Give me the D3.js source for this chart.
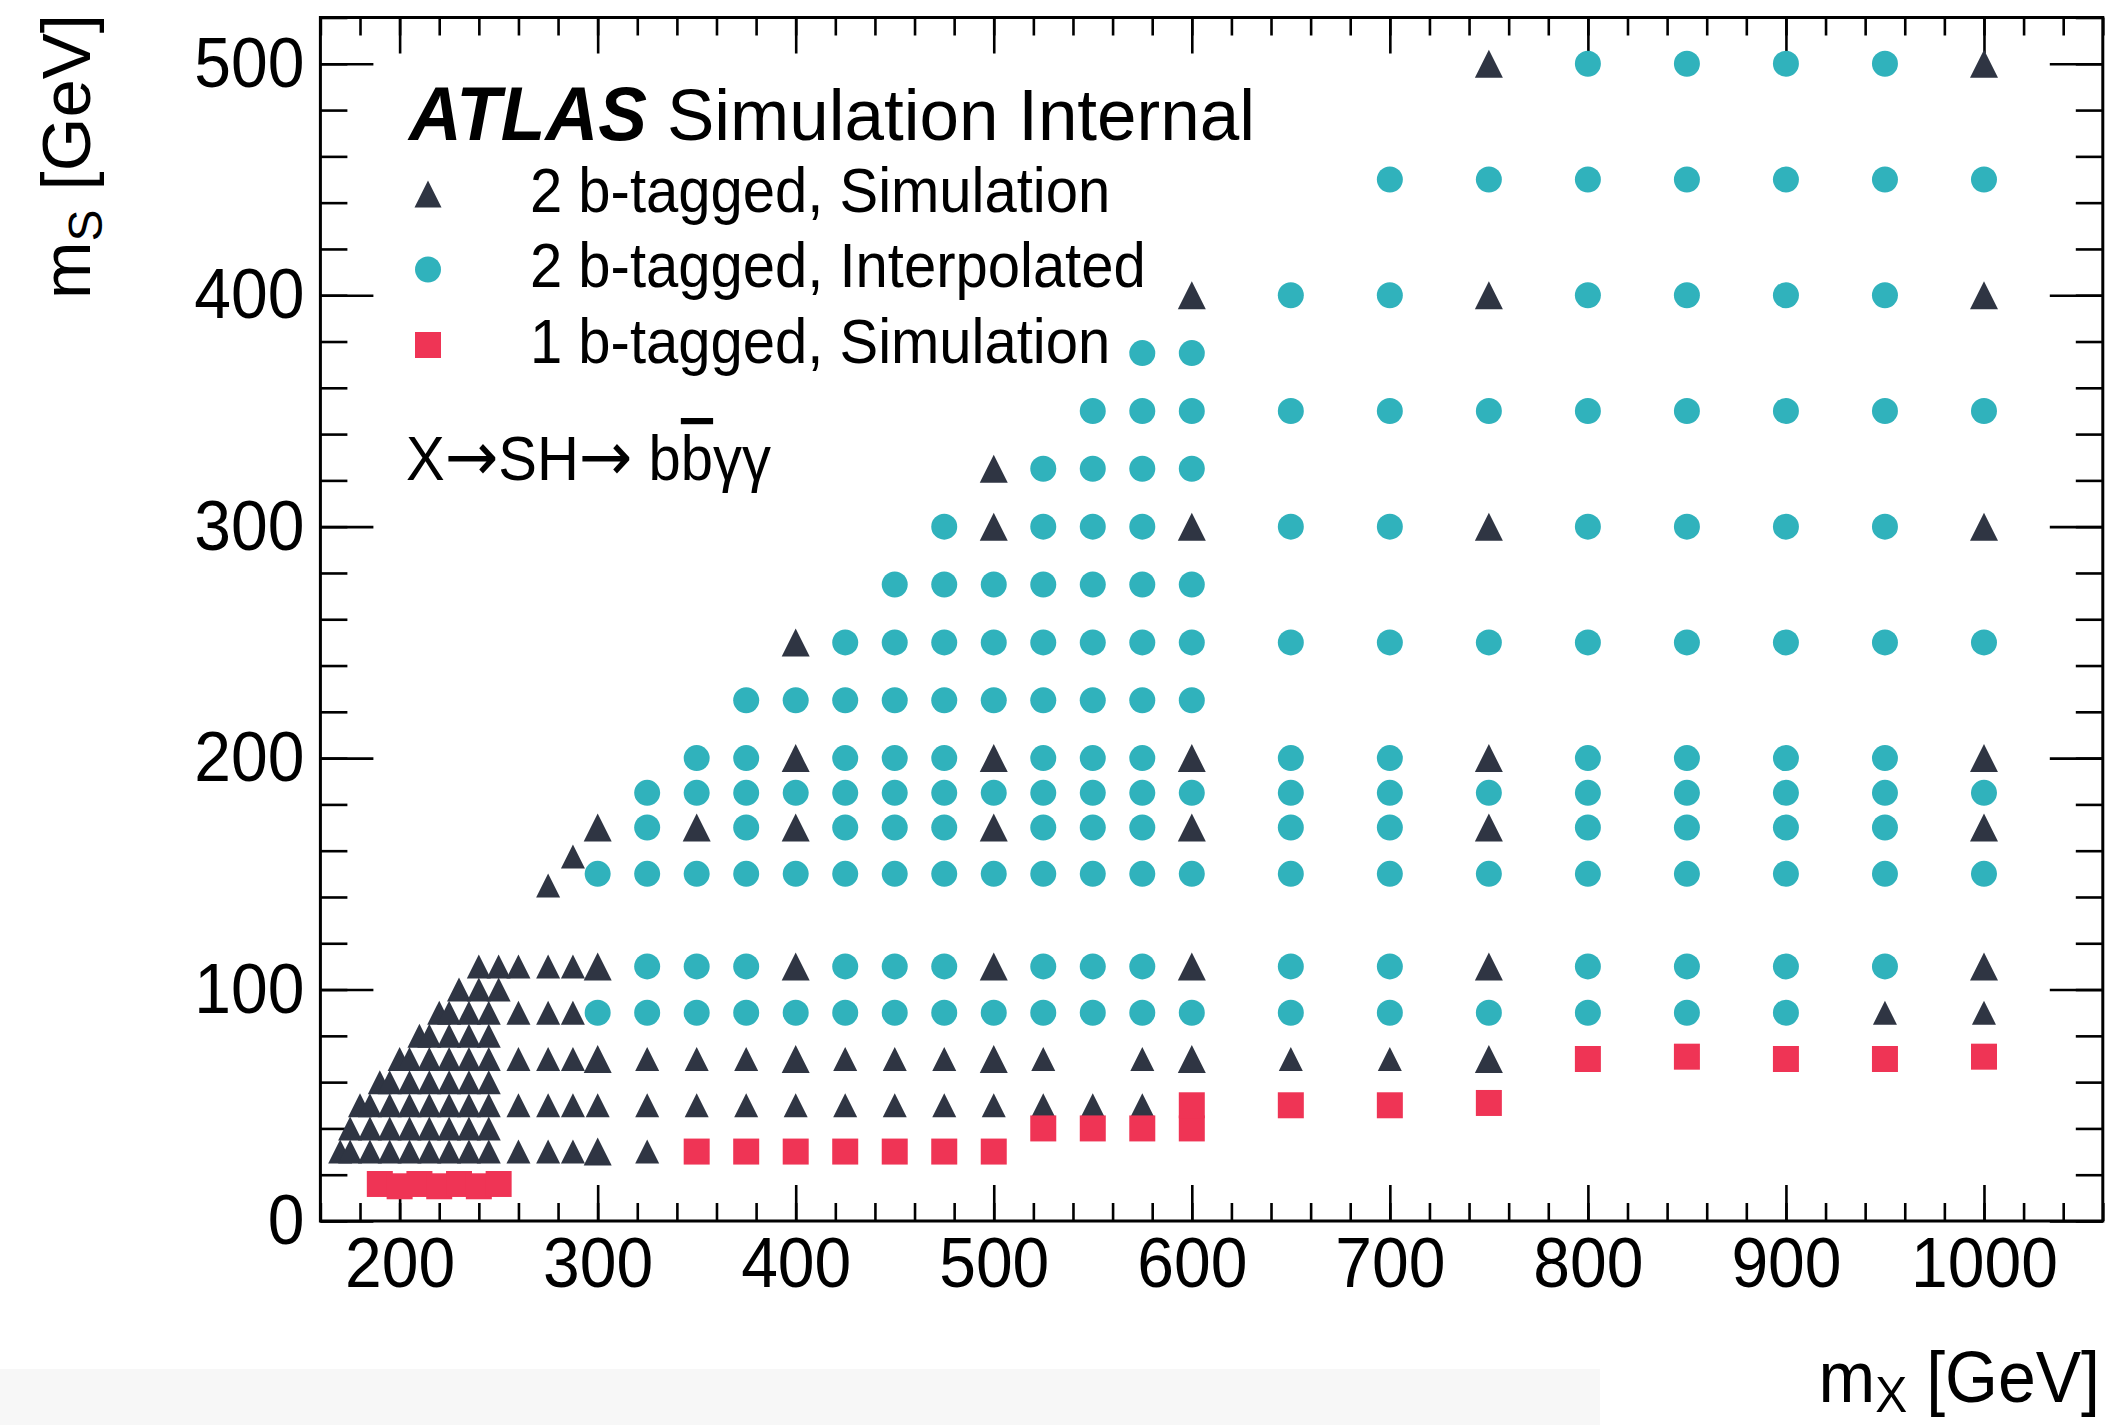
<!DOCTYPE html>
<html>
<head>
<meta charset="utf-8">
<script src="https://cdn.jsdelivr.net/npm/d3@7"></script>
<style>
  body { margin: 0; background: #fff; }
  text { font-family: "Liberation Sans", Arial, Helvetica, sans-serif; fill: #000; }
</style>
</head>
<body>
<svg id="chart" width="2115" height="1425"></svg>
<script>
// ---- Signal mass grid (mX, mS) in GeV ----

// 2 b-tagged simulated samples, main grid (each entry: [mX, list of mS])
const sim2bMain = [
  [300,  [30, 70, 110, 170]],
  [350,  [170]],
  [400,  [70, 110, 170, 200, 250]],
  [500,  [70, 110, 170, 200, 300, 325]],
  [600,  [70, 110, 170, 200, 300, 400]],
  [750,  [70, 110, 170, 200, 300, 400, 500]],
  [1000, [110, 170, 200, 300, 400, 500]]
];

// 2 b-tagged simulated samples, additional low-mass points
const sim2bExtra = [
  [170,   [30]],
  [175,   [30, 40]],
  [180,   [50]],
  [185,   [30, 40, 50]],
  [190,   [60]],
  [195,   [30, 40, 50, 60]],
  [200,   [70]],
  [205,   [30, 40, 50, 60, 70]],
  [210,   [80]],
  [215,   [30, 40, 50, 60, 70, 80]],
  [220,   [90]],
  [225,   [30, 40, 50, 60, 70, 80, 90]],
  [230,   [100]],
  [235,   [30, 40, 50, 60, 70, 80, 90]],
  [240,   [100, 110]],
  [245,   [30, 40, 50, 60, 70, 80, 90]],
  [250,   [100, 110]],
  [260,   [30, 50, 70, 90, 110]],
  [275,   [30, 50, 70, 90, 110, 145]],
  [287.5, [30, 50, 70, 90, 110, 157.5]],
  [300,   [50]],
  [325,   [30, 50, 70]],
  [350,   [50, 70]],
  [375,   [50, 70]],
  [400,   [50]],
  [425,   [50, 70]],
  [450,   [50, 70]],
  [475,   [50, 70]],
  [500,   [50]],
  [525,   [50, 70]],
  [550,   [50]],
  [575,   [50, 70]],
  [650,   [70]],
  [700,   [70]],
  [950,   [90]],
  [1000,  [90]]
];

// 2 b-tagged interpolated points
const interp2b = [
  [300,  [90, 150]],
  [325,  [90, 110, 150, 170, 185]],
  [350,  [90, 110, 150, 185, 200]],
  [375,  [90, 110, 150, 170, 185, 200, 225]],
  [400,  [90, 150, 185, 225]],
  [425,  [90, 110, 150, 170, 185, 200, 225, 250]],
  [450,  [90, 110, 150, 170, 185, 200, 225, 250, 275]],
  [475,  [90, 110, 150, 170, 185, 200, 225, 250, 275, 300]],
  [500,  [90, 150, 185, 225, 250, 275]],
  [525,  [90, 110, 150, 170, 185, 200, 225, 250, 275, 300, 325]],
  [550,  [90, 110, 150, 170, 185, 200, 225, 250, 275, 300, 325, 350]],
  [575,  [90, 110, 150, 170, 185, 200, 225, 250, 275, 300, 325, 350, 375]],
  [600,  [90, 150, 185, 225, 250, 275, 325, 350, 375]],
  [650,  [90, 110, 150, 170, 185, 200, 250, 300, 350, 400]],
  [700,  [90, 110, 150, 170, 185, 200, 250, 300, 350, 400, 450]],
  [750,  [90, 150, 185, 250, 350, 450]],
  [800,  [90, 110, 150, 170, 185, 200, 250, 300, 350, 400, 450, 500]],
  [850,  [90, 110, 150, 170, 185, 200, 250, 300, 350, 400, 450, 500]],
  [900,  [90, 110, 150, 170, 185, 200, 250, 300, 350, 400, 450, 500]],
  [950,  [110, 150, 170, 185, 200, 250, 300, 350, 400, 450, 500]],
  [1000, [150, 185, 250, 350, 450]]
];

// 1 b-tagged simulated samples: [mX, mS]
const sim1b = [
  [190, 16], [200, 15], [210, 16], [220, 15], [230, 16], [240, 15], [250, 16],
  [350, 30], [375, 30], [400, 30], [425, 30], [450, 30], [475, 30], [500, 30],
  [525, 40], [550, 40], [575, 40], [600, 40], [600, 50],
  [650, 50], [700, 50], [750, 51],
  [800, 70], [850, 71], [900, 70], [950, 70], [1000, 71]
];

// axis labels
const xTickValues = [200, 300, 400, 500, 600, 700, 800, 900, 1000];
const yTickValues = [0, 100, 200, 300, 400, 500];

const legendEntries = [
  { key: "sim2b",  label: "2 b-tagged, Simulation" },
  { key: "interp", label: "2 b-tagged, Interpolated" },
  { key: "sim1b",  label: "1 b-tagged, Simulation" }
];

// ---- layout ----
const W = 2115, H = 1425;
const frame = { left: 320.4, right: 2102.8, top: 17.5, bottom: 1221 };
const colors = { sim2b: "#2f3543", interp: "#30b2bc", sim1b: "#ef3455" };
const STRETCH = 1.07;   // glyphs are drawn slightly taller than the font's natural shape

const x = d3.scaleLinear().domain([160, 1060]).range([frame.left, frame.right]);
const y = d3.scaleLinear().domain([0, 520]).range([frame.bottom, frame.top]);

const svg = d3.select("#chart");
svg.append("rect").attr("width", W).attr("height", H).attr("fill", "#fff");
svg.append("rect").attr("x", 0).attr("y", 1369).attr("width", 1600).attr("height", 56).attr("fill", "#f7f7f7");

// stretch a text element vertically about its own baseline
function stretchY(sel, k) {
  sel.each(function () {
    const by = +(this.getAttribute("y") || 0);
    const prev = this.getAttribute("transform") || "";
    this.setAttribute("transform", `${prev} translate(0,${by}) scale(1,${k}) translate(0,${-by})`);
  });
}

// ROOT-style upward triangle: width equals height, centred on the point
const triangleUp = {
  draw(ctx, size) {
    const s = Math.sqrt(size) / 2;
    ctx.moveTo(-s, s);
    ctx.lineTo(s, s);
    ctx.lineTo(0, -s);
    ctx.closePath();
  }
};
const squareC = {
  draw(ctx, size) {
    const s = Math.sqrt(size) / 2;
    ctx.rect(-s, -s, 2 * s, 2 * s);
  }
};
const circleC = {
  draw(ctx, size) {
    const r = Math.sqrt(size) / 2;
    ctx.moveTo(r, 0);
    ctx.arc(0, 0, r, 0, 2 * Math.PI);
  }
};

const SZ = { triMain: 28, triExtra: 24, circle: 26, square: 26 };
const sym = (type, w) => d3.symbol().type(type).size(w * w)();

const expand = cols => cols.flatMap(([mx, list]) => list.map(ms => [mx, ms]));

// ---- axes (ticks pointing inward, ROOT style) ----
const axes = svg.append("g").attr("class", "axes");
const xMinor = d3.range(160, 1061, 20);
const yMinor = d3.range(0, 521, 20);

function tickAxis(axisGen, translate, values, len, withLabels) {
  const g = axes.append("g").attr("transform", translate)
    .call(axisGen.tickValues(values).tickSize(-len).tickPadding(16)
      .tickFormat(withLabels ? d3.format("d") : () => ""));
  g.select(".domain").remove();
  g.selectAll(".tick line").attr("stroke", "#000").attr("stroke-width", 2.6);
  const t = g.selectAll(".tick text").attr("font-size", 66).attr("fill", "#000")
    .attr("font-family", "Liberation Sans, Arial, sans-serif");
  if (withLabels) stretchY(t, STRETCH);
  return g;
}
// bottom / top
tickAxis(d3.axisBottom(x), `translate(0,${frame.bottom})`, xMinor, 18, false);
tickAxis(d3.axisBottom(x), `translate(0,${frame.bottom})`, xTickValues, 36, true);
tickAxis(d3.axisTop(x), `translate(0,${frame.top})`, xMinor, 18, false);
tickAxis(d3.axisTop(x), `translate(0,${frame.top})`, xTickValues, 36, false);
// left / right
tickAxis(d3.axisLeft(y), `translate(${frame.left},0)`, yMinor, 27, false);
tickAxis(d3.axisLeft(y), `translate(${frame.left},0)`, yTickValues, 53, true);
tickAxis(d3.axisRight(y), `translate(${frame.right},0)`, yMinor, 27, false);
tickAxis(d3.axisRight(y), `translate(${frame.right},0)`, yTickValues, 53, false);

// frame
svg.append("rect")
  .attr("x", frame.left).attr("y", frame.top)
  .attr("width", frame.right - frame.left).attr("height", frame.bottom - frame.top)
  .attr("fill", "none").attr("stroke", "#000").attr("stroke-width", 3);

// ---- markers ----
const marks = svg.append("g").attr("class", "marks");

marks.selectAll("path.tri-extra").data(expand(sim2bExtra)).join("path")
  .attr("class", "tri-extra")
  .attr("transform", d => `translate(${x(d[0])},${y(d[1])})`)
  .attr("d", sym(triangleUp, SZ.triExtra))
  .attr("fill", colors.sim2b);

marks.selectAll("path.tri-main").data(expand(sim2bMain)).join("path")
  .attr("class", "tri-main")
  .attr("transform", d => `translate(${x(d[0])},${y(d[1])})`)
  .attr("d", sym(triangleUp, SZ.triMain))
  .attr("fill", colors.sim2b);

marks.selectAll("path.interp").data(expand(interp2b)).join("path")
  .attr("class", "interp")
  .attr("transform", d => `translate(${x(d[0])},${y(d[1])})`)
  .attr("d", sym(circleC, SZ.circle))
  .attr("fill", colors.interp);

marks.selectAll("path.sq").data(sim1b).join("path")
  .attr("class", "sq")
  .attr("transform", d => `translate(${x(d[0])},${y(d[1])})`)
  .attr("d", sym(squareC, SZ.square))
  .attr("fill", colors.sim1b);

// ---- labels ----
const label = svg.append("g");
const atlas = label.append("text").attr("x", 409).attr("y", 140).attr("font-size", 73)
  .attr("font-weight", "bold").attr("font-style", "italic").text("ATLAS");
const simInt = label.append("text").attr("x", 667).attr("y", 140).attr("font-size", 71)
  .text("Simulation Internal");
stretchY(atlas, 1.03);
stretchY(simInt, 1.03);

// legend
const legendShapes = {
  sim2b:  sym(triangleUp, 27),
  interp: sym(circleC, SZ.circle),
  sim1b:  sym(squareC, SZ.square)
};
const leg = label.append("g");
legendEntries.forEach((e, i) => {
  const base = 212 + i * 75.5;
  leg.append("path")
    .attr("transform", `translate(428,${base - 18})`)
    .attr("d", legendShapes[e.key]).attr("fill", colors[e.key]);
  const t = leg.append("text").attr("x", 530).attr("y", base).attr("font-size", 58).text(e.label);
  stretchY(t, STRETCH);
});

// decay chain
const proc = label.append("text").attr("x", 406).attr("y", 480).attr("font-size", 58);
proc.append("tspan").text("X");
proc.append("tspan").attr("font-family", "DejaVu Sans").attr("font-size", 64).text("\u2192");
proc.append("tspan").text("SH");
proc.append("tspan").attr("font-family", "DejaVu Sans").attr("font-size", 64).text("\u2192");
proc.append("tspan").text(" b");
proc.append("tspan").style("text-decoration", "overline").text("b");
proc.append("tspan").text("\u03b3\u03b3");
stretchY(proc, STRETCH);

// axis titles
const xt = label.append("text").attr("x", 2100).attr("y", 1402)
  .attr("font-size", 68).attr("text-anchor", "end");
xt.append("tspan").text("m");
xt.append("tspan").attr("font-size", 48).attr("dy", 10).text("X");
xt.append("tspan").attr("dy", -10).text(" [GeV]");
stretchY(xt, 1.05);

const yt = label.append("text")
  .attr("transform", "translate(90,14) rotate(-90)")
  .attr("font-size", 69).attr("text-anchor", "end");
yt.append("tspan").text("m");
yt.append("tspan").attr("font-size", 48).attr("dy", 12).text("S");
yt.append("tspan").attr("dy", -12).text(" [GeV]");
</script>
</body>
</html>
